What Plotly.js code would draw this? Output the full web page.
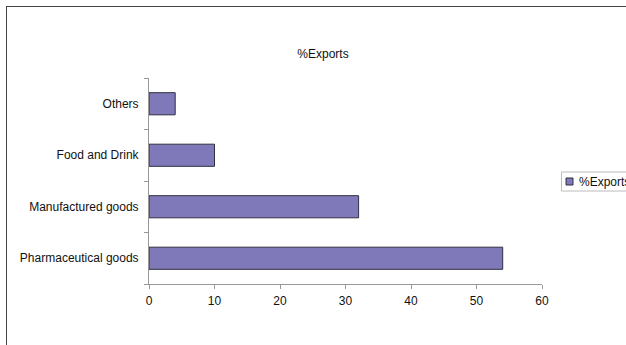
<!DOCTYPE html>
<html>
<head>
<meta charset="utf-8">
<script src="https://cdn.plot.ly/plotly-3.0.1.min.js"></script>
<style>
  html, body { margin: 0; padding: 0; background: #fff; overflow: hidden; }
  #frame { position: absolute; left: 6px; top: 6px; width: 700px; height: 400px;
           border-left: 1px solid #444; border-top: 1px solid #444; }
  #chart { position: absolute; left: 0; top: 0; width: 626px; height: 345px; }
</style>
</head>
<body>
<div id="frame"></div>
<div id="chart"></div>
<script>
// Share of exports by product group (%)
const categories = ["Pharmaceutical goods", "Manufactured goods", "Food and Drink", "Others"];
const exportShare = [54, 32, 10, 4];
const seriesName = "%Exports";
const xTicks = [0, 10, 20, 30, 40, 50, 60];

const barColor = "#8079b9";
const font = { family: "Liberation Sans, Arial, sans-serif", size: 12, color: "#111" };

const W = 626, H = 345;
const M = { l: 149, r: 84, t: 78, b: 61 };
// pixel -> paper helpers for the legend box placed right of the plot
const px = v => (v - M.l) / (W - M.l - M.r);
const py = v => (H - M.b - v) / (H - M.t - M.b);

const trace = {
  type: "bar",
  orientation: "h",
  y: categories,
  x: exportShare,
  name: seriesName,
  width: 0.43,
  marker: { color: barColor, line: { color: "#2f2f3f", width: 1 } },
  showlegend: false,
  hoverinfo: "x+y"
};

const layout = {
  width: W,
  height: H,
  paper_bgcolor: "rgba(0,0,0,0)",
  plot_bgcolor: "rgba(0,0,0,0)",
  margin: M,
  font: font,
  showlegend: false,
  title: {
    text: seriesName,
    font: { family: font.family, size: 12, color: "#111" },
    xref: "container", yref: "container",
    x: 0.516, y: 1 - 54 / 345,
    xanchor: "center", yanchor: "middle"
  },
  xaxis: {
    range: [0, 60],
    tickvals: xTicks,
    ticktext: xTicks.map(String),
    showgrid: false,
    zeroline: false,
    showline: true,
    linecolor: "#999",
    linewidth: 1,
    ticks: "outside",
    ticklen: 4,
    tickcolor: "#999",
    tickfont: font,
    ticklabelstandoff: 2,
    fixedrange: true
  },
  yaxis: {
    type: "category",
    categoryorder: "array",
    categoryarray: categories,
    range: [-0.5, 3.5],
    showgrid: false,
    zeroline: false,
    showline: true,
    linecolor: "#999",
    linewidth: 1,
    ticks: "outside",
    tickson: "boundaries",
    ticklen: 4,
    tickcolor: "#999",
    tickfont: font,
    ticklabelstandoff: 7,
    fixedrange: true
  },
  // legend box drawn by hand so it can sit at the right edge without shrinking the plot
  shapes: [
    {
      type: "rect", xref: "paper", yref: "paper",
      x0: px(561.5), x1: px(660), y0: py(172), y1: py(191),
      line: { color: "#bbb", width: 1 }, fillcolor: "#fff"
    },
    {
      type: "rect", xref: "paper", yref: "paper",
      x0: px(566), x1: px(573), y0: py(178), y1: py(185),
      line: { color: "#2f2f3f", width: 1 }, fillcolor: barColor
    }
  ],
  annotations: [
    {
      text: seriesName, xref: "paper", yref: "paper",
      x: px(577), y: py(181.5), xanchor: "left", yanchor: "middle",
      showarrow: false, font: font
    }
  ]
};

Plotly.newPlot("chart", [trace], layout, { displayModeBar: false, staticPlot: true });
</script>
</body>
</html>
